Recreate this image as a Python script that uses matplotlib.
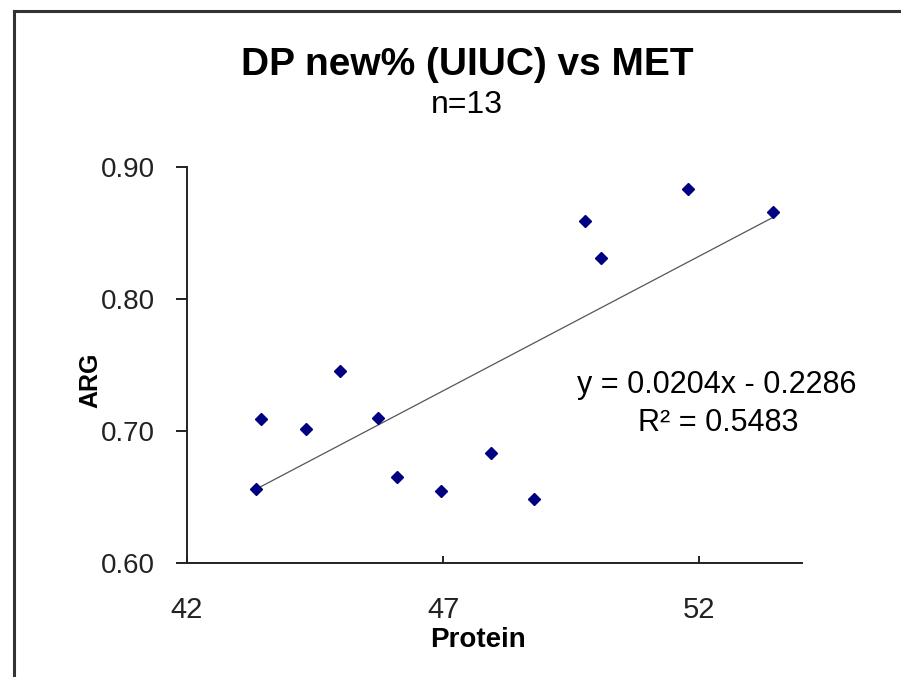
import numpy as np
import matplotlib
matplotlib.use("Agg")
import matplotlib.pyplot as plt
from matplotlib.lines import Line2D

plt.rcParams['font.family'] = ['Liberation Sans', 'DejaVu Sans']

# data
protein = [43.35, 43.45, 44.32, 44.99, 45.72, 46.11, 46.96, 47.94, 48.77,
           49.78, 50.09, 51.78, 53.45]
arg = [0.656, 0.709, 0.701, 0.745, 0.710, 0.665, 0.654, 0.683, 0.648,
       0.859, 0.831, 0.883, 0.866]
slope, intercept = 0.0204, -0.2286
r2 = 0.5483

x_ticks = [42, 47, 52]
y_ticks = [0.60, 0.70, 0.80, 0.90]

fig = plt.figure(figsize=(9.01, 6.77), dpi=100)
ax = fig.add_axes([0.2075, 0.1688, 0.6822, 0.585])

# scatter points
ax.plot(protein, arg, linestyle='none', marker='D', markersize=6.2,
        color='#000080', markeredgecolor='#000080', zorder=3)

# linear trendline
xs = np.array([min(protein), max(protein)])
ax.plot(xs, slope * xs + intercept, color='#555555', linewidth=0.9, zorder=2)

ax.set_xlim(42, 54)
ax.set_ylim(0.60, 0.90)
ax.set_xticks(x_ticks)
ax.set_yticks(y_ticks)
ax.set_yticklabels([f"{v:.2f}" for v in y_ticks])

for side in ['top', 'right']:
    ax.spines[side].set_visible(False)
for side in ['left', 'bottom']:
    ax.spines[side].set_linewidth(1.4)
    ax.spines[side].set_color('#222222')

ax.tick_params(axis='y', direction='out', length=8, width=1.4, pad=15,
               labelsize=20, colors='#222222')
ax.tick_params(axis='x', direction='in', length=5, width=1.4, pad=24,
               labelsize=21, colors='#222222')

# titles and axis labels
fig.text(467 / 901, 1 - 65 / 677, "DP new% (UIUC) vs MET", ha='center',
         va='center', fontsize=28, fontweight='bold')
fig.text(467 / 901, 1 - 105 / 677, "n=13", ha='center', va='center',
         fontsize=23)
fig.text(90 / 901, 1 - 380 / 677, "ARG", ha='center', va='center',
         rotation=90, fontsize=18, fontweight='bold')
fig.text(478 / 901, 1 - 640 / 677, "Protein", ha='center', va='center',
         fontsize=20, fontweight='bold')

# trendline equation
fig.text(717 / 901, 1 - 385 / 677, f"y = {slope:.4f}x - {abs(intercept):.4f}",
         ha='center', va='center', fontsize=22)
fig.text(718 / 901, 1 - 423 / 677, f"R² = {r2:.4f}", ha='center',
         va='center', fontsize=22)

# chart area border (left and top edges only visible)
bx, by = 14.5 / 901, 1 - 11 / 677
fig.add_artist(Line2D([bx, bx], [0, by], transform=fig.transFigure,
                      color='#333333', linewidth=2.2))
fig.add_artist(Line2D([bx, 1], [by, by], transform=fig.transFigure,
                      color='#333333', linewidth=2.2))

fig.savefig("out.png", dpi=100)
